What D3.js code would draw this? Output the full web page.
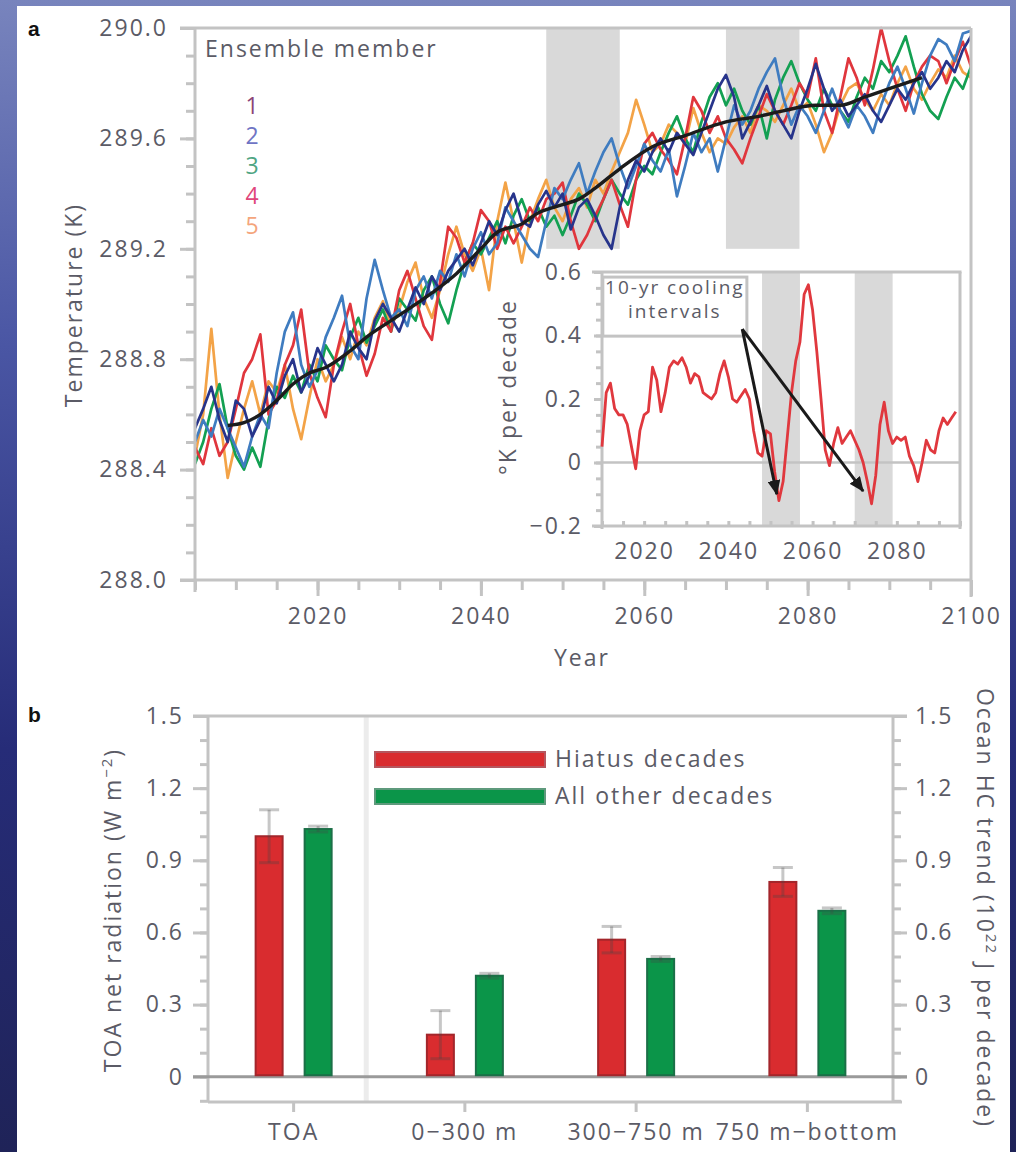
<!DOCTYPE html>
<html><head><meta charset="utf-8">
<script src="https://cdn.jsdelivr.net/npm/d3@7/dist/d3.min.js"></script>
<style>
html,body{margin:0;padding:0;}
body{width:1016px;height:1152px;overflow:hidden;background:linear-gradient(180deg,#7884bd 0%,#4a56a4 30%,#262c78 65%,#1f2358 100%);}
svg{display:block;}
text{font-family:"Open Sans",sans-serif;}
</style></head><body>
<svg id="chart" width="1016" height="1152"></svg>
<script>
// ---------------- DATA ----------------
const startYear = 2005;
const memberNames = ["1", "2", "3", "4", "5"];
const member1 = [
 288.55,288.62,288.70,288.58,288.50,288.65,288.62,288.52,288.58,288.70,
 288.64,288.74,288.80,288.68,288.74,288.84,288.78,288.72,288.78,288.90,
 288.84,288.80,288.94,289.00,288.95,288.90,288.98,289.06,289.00,289.10,
 289.05,289.12,289.16,289.20,289.14,289.22,289.30,289.25,289.34,289.40,
 289.30,289.28,289.36,289.41,289.35,289.40,289.27,289.35,289.38,289.32,
 289.25,289.20,289.35,289.45,289.52,289.48,289.55,289.60,289.55,289.62,
 289.58,289.54,289.62,289.70,289.78,289.83,289.75,289.60,289.66,289.72,
 289.79,289.70,289.65,289.60,289.70,289.78,289.87,289.78,289.70,289.74,
 289.68,289.72,289.76,289.70,289.66,289.72,289.78,289.74,289.80,289.84,
 289.78,289.82,289.88,289.84,289.92,289.97];
const member2 = [
 288.50,288.58,288.52,288.62,288.55,288.48,288.41,288.52,288.60,288.55,
 288.75,288.90,288.97,288.78,288.70,288.76,288.88,288.95,289.03,288.85,
 288.80,289.02,289.16,289.05,288.95,288.98,288.92,289.05,289.10,289.02,
 289.12,289.08,289.18,289.10,289.20,289.26,289.18,289.22,289.35,289.30,
 289.25,289.20,289.17,289.30,289.42,289.38,289.45,289.51,289.40,289.48,
 289.55,289.60,289.50,289.42,289.50,289.58,289.52,289.48,289.56,289.39,
 289.50,289.62,289.55,289.60,289.48,289.60,289.72,289.65,289.70,289.78,
 289.84,289.89,289.75,289.65,289.72,289.68,289.62,289.70,289.78,289.70,
 289.64,289.72,289.68,289.62,289.72,289.80,289.86,289.78,289.69,289.80,
 289.90,289.96,289.94,289.88,289.98,289.99];
const member3 = [
 288.42,288.50,288.62,288.71,288.55,288.45,288.40,288.48,288.41,288.58,
 288.70,288.66,288.74,288.68,288.78,288.72,288.85,288.80,288.76,288.88,
 288.95,288.86,288.92,288.98,288.90,289.02,288.98,288.94,289.05,289.10,
 289.00,288.93,289.05,289.15,289.22,289.18,289.24,289.30,289.22,289.32,
 289.38,289.30,289.35,289.28,289.32,289.25,289.32,289.40,289.36,289.30,
 289.38,289.45,289.40,289.36,289.45,289.50,289.47,289.55,289.62,289.68,
 289.60,289.55,289.66,289.75,289.80,289.72,289.78,289.70,289.65,289.72,
 289.60,289.74,289.82,289.88,289.80,289.74,289.70,289.78,289.72,289.70,
 289.66,289.75,289.82,289.78,289.88,289.84,289.90,289.97,289.86,289.76,
 289.70,289.67,289.75,289.82,289.78,289.86];
const member4 = [
 288.48,288.42,288.55,288.45,288.50,288.62,288.75,288.80,288.89,288.60,
 288.65,288.78,288.85,288.98,288.75,288.66,288.59,288.78,288.90,289.00,
 288.85,288.74,288.82,288.95,288.90,289.05,289.12,289.02,288.92,288.87,
 289.08,289.28,289.24,289.15,289.22,289.34,289.30,289.20,289.28,289.22,
 289.28,289.35,289.30,289.38,289.40,289.44,289.30,289.20,289.25,289.32,
 289.38,289.45,289.36,289.28,289.45,289.58,289.62,289.56,289.52,289.47,
 289.60,289.75,289.70,289.62,289.68,289.60,289.56,289.51,289.60,289.68,
 289.76,289.70,289.65,289.72,289.80,289.75,289.89,289.70,289.62,289.75,
 289.89,289.82,289.72,289.85,290.00,289.88,289.78,289.70,289.80,289.86,
 289.90,289.88,289.80,289.88,289.95,289.86];
const member5 = [
 288.45,288.60,288.91,288.60,288.37,288.50,288.62,288.72,288.60,288.72,
 288.68,288.78,288.62,288.51,288.66,288.80,288.72,288.78,288.88,288.80,
 288.90,288.85,288.95,289.01,288.92,288.98,289.08,289.15,289.02,288.95,
 289.05,289.18,289.28,289.18,289.12,289.20,289.05,289.30,289.44,289.30,
 289.15,289.30,289.38,289.45,289.35,289.30,289.38,289.42,289.35,289.45,
 289.40,289.48,289.55,289.62,289.74,289.65,289.55,289.58,289.65,289.62,
 289.58,289.71,289.62,289.55,289.60,289.58,289.64,289.68,289.62,289.72,
 289.70,289.66,289.72,289.78,289.70,289.73,289.65,289.55,289.62,289.72,
 289.78,289.80,289.74,289.70,289.76,289.72,289.80,289.86,289.78,289.74,
 289.80,289.85,289.82,289.90,289.84,289.82];
const ensembleMean = [
 [2009,288.56],[2011,288.57],[2013,288.60],[2015,288.65],[2017,288.71],[2019,288.75],
 [2021,288.77],[2024,288.83],[2026,288.88],[2029,288.94],[2034,289.04],[2037,289.11],
 [2040,289.20],[2042,289.26],[2045,289.29],[2047,289.33],[2050,289.36],[2052,289.38],
 [2054,289.42],[2057,289.49],[2061,289.57],[2065,289.61],[2070,289.66],[2074,289.68],
 [2077,289.70],[2081,289.72],[2084,289.72],[2087,289.75],[2090,289.78],[2094,289.82]];
const hiatusIntervals = [[2048, 2057], [2070, 2079]];
const tempTicks = [288.0, 288.4, 288.8, 289.2, 289.6, 290.0];
const yearTicks = [2020, 2040, 2060, 2080, 2100];

const insetStartYear = 2010;
const insetTrend = [
 0.05,0.22,0.25,0.17,0.15,0.15,0.12,0.05,-0.02,0.10,
 0.15,0.16,0.30,0.26,0.16,0.22,0.30,0.32,0.31,0.33,
 0.30,0.25,0.28,0.27,0.22,0.21,0.20,0.22,0.28,0.32,
 0.27,0.20,0.19,0.21,0.23,0.20,0.10,0.03,0.02,0.10,
 0.09,-0.03,-0.12,-0.06,0.08,0.22,0.32,0.38,0.53,0.56,
 0.48,0.35,0.20,0.04,-0.01,0.06,0.11,0.06,0.08,0.10,
 0.07,0.04,0.00,-0.06,-0.13,-0.04,0.12,0.19,0.10,0.06,
 0.08,0.07,0.08,0.02,-0.01,-0.06,0.00,0.07,0.04,0.03,
 0.10,0.14,0.12,0.14,0.16];
const insetYTicks = [-0.2, 0, 0.2, 0.4, 0.6];
const insetXTicks = [2020, 2040, 2060, 2080];
const calloutLines = ["10-yr cooling", "intervals"];

const barCategories = ["TOA", "0\u2212300 m", "300\u2212750 m", "750 m\u2212bottom"];
const barSeries = ["Hiatus decades", "All other decades"];
const hiatusValues = [1.00, 0.175, 0.57, 0.81];
const hiatusErrors = [0.11, 0.10, 0.055, 0.06];
const otherValues = [1.03, 0.42, 0.49, 0.69];
const otherErrors = [0.012, 0.01, 0.01, 0.012];
const barTicks = [0, 0.3, 0.6, 0.9, 1.2, 1.5];

// ---------------- STYLE ----------------
const memberColors = ["#27348b", "#3f7cc0", "#13a052", "#e0363d", "#f3a347"];
const memberTextColors = ["#8c4476", "#6f74c4", "#4fa583", "#e0467a", "#f4a57c"];
const AX = "#c3c3c3", TXT = "#5b5b66", FS = 23;
const barFill = ["#d92c2f", "#0b9549"], barStroke = ["#a3262b", "#1b6f47"];

const svg = d3.select("#chart");
svg.append("rect").attr("x", 17).attr("y", 6).attr("width", 993).attr("height", 1146).attr("fill", "#fff");

function styleText(sel, size) {
  sel.attr("fill", TXT).style("font-size", (size || FS) + "px").style("letter-spacing", "2px")
     .style("font-family", "'Open Sans',sans-serif");
}
function hline(x1, x2, yy, color, w) {
  svg.append("line").attr("x1", x1).attr("x2", x2).attr("y1", yy).attr("y2", yy).attr("stroke", color).attr("stroke-width", w);
}
function vline(xx, y1, y2, color, w) {
  svg.append("line").attr("x1", xx).attr("x2", xx).attr("y1", y1).attr("y2", y2).attr("stroke", color).attr("stroke-width", w);
}
function styleAxis(g) {
  g.select(".domain").remove();
  g.selectAll(".tick line").attr("stroke", AX).attr("stroke-width", 3);
  g.selectAll(".tick text").call(styleText);
}

// ================= PANEL A =================
const x = d3.scaleLinear().domain([2005, 2100]).range([195, 971]);
const y = d3.scaleLinear().domain([288, 290]).range([580, 28]);

svg.selectAll(".shadeA").data(hiatusIntervals).join("rect")
  .attr("x", d => x(d[0])).attr("width", d => x(d[1]) - x(d[0]))
  .attr("y", y(290)).attr("height", y(289.2) - y(290)).attr("fill", "#d9d9d9");

svg.append("clipPath").attr("id", "clipA").append("rect")
  .attr("x", 195).attr("y", 24).attr("width", 776).attr("height", 556);
const gl = svg.append("g").attr("clip-path", "url(#clipA)");
const members = [member1, member2, member3, member4, member5];
const line = d3.line().x((d, i) => x(startYear + i)).y(d => y(d));
[4, 2, 3, 1, 0].forEach(k => {
  gl.append("path").datum(members[k]).attr("d", line).attr("fill", "none")
    .attr("stroke", memberColors[k]).attr("stroke-width", 2.7).attr("stroke-linejoin", "round");
});
gl.append("path").datum(ensembleMean)
  .attr("d", d3.line().curve(d3.curveMonotoneX).x(d => x(d[0])).y(d => y(d[1])))
  .attr("fill", "none").attr("stroke", "#1c1c1c").attr("stroke-width", 3.4);

// frame
hline(180, 971, y(290), AX, 3);
hline(180, 971, y(288), AX, 3);
vline(x(2005), y(290), 592, AX, 3);
vline(x(2100), y(290), 597, AX, 3);

// axes
const minorTemp = d3.range(0, 21).map(i => 288 + i * 0.1);
svg.append("g").attr("transform", `translate(${x(2005)},0)`)
  .call(d3.axisLeft(y).tickValues(minorTemp).tickSize(9).tickFormat("")).call(styleAxis);
svg.append("g").attr("transform", `translate(${x(2005)},0)`)
  .call(d3.axisLeft(y).tickValues(tempTicks).tickSize(15).tickPadding(12).tickFormat(d3.format(".1f"))).call(styleAxis);
const minorYears = d3.range(0, 20).map(i => 2005 + i * 5);
svg.append("g").attr("transform", `translate(0,${y(288)})`)
  .call(d3.axisBottom(x).tickValues(minorYears).tickSize(10).tickFormat("")).call(styleAxis);
svg.append("g").attr("transform", `translate(0,${y(288)})`)
  .call(d3.axisBottom(x).tickValues(yearTicks).tickSize(16).tickPadding(12).tickFormat(d3.format("d"))).call(styleAxis);

svg.append("text").attr("x", 582).attr("y", 666).attr("text-anchor", "middle").text("Year").call(styleText);
svg.append("text").attr("transform", "translate(82,305) rotate(-90)").attr("text-anchor", "middle").text("Temperature (K)").call(styleText);

// legend
svg.append("text").attr("x", 205).attr("y", 57).text("Ensemble member").call(styleText);
svg.selectAll(".memLab").data(memberNames).join("text")
  .attr("x", 253).attr("y", (d, i) => 114 + i * 30).attr("text-anchor", "middle").text(d => d)
  .call(styleText).attr("fill", (d, i) => memberTextColors[i]);

svg.append("text").attr("x", 28).attr("y", 36).text("a").attr("fill", "#111")
  .style("font-size", "21px").style("font-weight", "bold").style("font-family", "'Liberation Sans',sans-serif");

// ---------------- inset ----------------
const ix = d3.scaleLinear().domain([2010, 2095]).range([602, 960]);
const iy = d3.scaleLinear().domain([-0.2, 0.6]).range([526, 272]);
svg.append("rect").attr("x", 525).attr("y", 262).attr("width", 443).attr("height", 310).attr("fill", "#fff");
svg.selectAll(".shadeI").data(hiatusIntervals).join("rect")
  .attr("x", d => ix(d[0])).attr("width", d => ix(d[1]) - ix(d[0]))
  .attr("y", iy(0.6)).attr("height", iy(-0.2) - iy(0.6)).attr("fill", "#d9d9d9");
hline(ix(2010), ix(2095), iy(0), AX, 2.5);
// frame
hline(592, ix(2095) + 1.5, iy(0.6), AX, 3);
hline(592, ix(2095) + 1.5, iy(-0.2), AX, 3);
vline(ix(2010), iy(0.6), iy(-0.2) + 3, AX, 3);
vline(ix(2095), iy(0.6), iy(-0.2) + 3, AX, 3);
const minorInsetY = d3.range(0, 17).map(i => -0.2 + i * 0.05);
svg.append("g").attr("transform", `translate(${ix(2010)},0)`)
  .call(d3.axisLeft(iy).tickValues(minorInsetY).tickSize(6).tickFormat("")).call(styleAxis);
svg.append("g").attr("transform", `translate(${ix(2010)},0)`)
  .call(d3.axisLeft(iy).tickValues(insetYTicks).tickSize(8).tickPadding(11)
    .tickFormat(d => d === 0 ? "0" : d3.format(".1f")(d).replace("-", "\u2212"))).call(styleAxis);
const minorInsetX = d3.range(0, 18).map(i => 2010 + i * 5);
svg.append("g").attr("transform", `translate(0,${iy(-0.2)})`)
  .call(d3.axisTop(ix).tickValues(minorInsetX).tickSize(5).tickFormat("")).call(styleAxis);
const gix = svg.append("g").attr("transform", `translate(0,${iy(-0.2)})`)
  .call(d3.axisBottom(ix).tickValues(insetXTicks).tickSize(0).tickPadding(17).tickFormat(d3.format("d")));
styleAxis(gix);

svg.append("path").datum(insetTrend)
  .attr("d", d3.line().x((d, i) => ix(insetStartYear + i)).y(d => iy(d)))
  .attr("fill", "none").attr("stroke", "#e0383e").attr("stroke-width", 2.8).attr("stroke-linejoin", "round");

svg.append("text").attr("transform", "translate(516,387) rotate(-90)").attr("text-anchor", "middle")
  .text("\u00B0K per decade").call(styleText);

// callout
svg.append("rect").attr("x", ix(2010.2)).attr("y", iy(0.584)).attr("width", ix(2044.4) - ix(2010.2))
  .attr("height", iy(0.398) - iy(0.584)).attr("fill", "#fff").attr("stroke", AX).attr("stroke-width", 3);
svg.selectAll(".callout").data(calloutLines).join("text")
  .attr("x", ix(2027.3)).attr("y", (d, i) => iy(0.53) + i * 24).attr("text-anchor", "middle").text(d => d)
  .call(styleText, 19);
const defs = svg.append("defs");
defs.append("marker").attr("id", "arr").attr("viewBox", "0 0 14 12").attr("refX", 13).attr("refY", 6)
  .attr("markerWidth", 15).attr("markerHeight", 13).attr("markerUnits", "userSpaceOnUse").attr("orient", "auto")
  .append("path").attr("d", "M0,0 L14,6 L0,12 Z").attr("fill", "#1a1a1a");
const arrowStart = [2043.3, 0.42];
const arrowEnds = [[2051.5, -0.1], [2072, -0.09]];
arrowEnds.forEach(e => {
  svg.append("line").attr("x1", ix(arrowStart[0])).attr("y1", iy(arrowStart[1]))
    .attr("x2", ix(e[0])).attr("y2", iy(e[1])).attr("stroke", "#1a1a1a").attr("stroke-width", 3)
    .attr("marker-end", "url(#arr)");
});

// ================= PANEL B =================
const bx = d3.scaleBand().domain(barCategories).range([208, 893]);
const bsub = d3.scalePoint().domain(barSeries).range([-24.5, 24.5]);
const by = d3.scaleLinear().domain([-0.105, 1.5]).range([1102, 716]);
const barW = 29;
const center = c => bx(c) + bx.bandwidth() / 2;

// separator
vline((center(barCategories[0]) + center(barCategories[1])) / 2 - 13, by(1.5), by(-0.105), "#ececec", 5);

// frame
hline(193, 907, by(1.5), AX, 3);
hline(208, 902, by(-0.105), AX, 3);
vline(208, by(1.5), by(-0.105), AX, 3);
vline(893, by(1.5), by(-0.105), AX, 3);

const minorB = d3.range(0, 17).map(i => -0.1 + i * 0.1);
svg.append("g").attr("transform", "translate(208,0)")
  .call(d3.axisLeft(by).tickValues(minorB).tickSize(8).tickFormat("")).call(styleAxis);
svg.append("g").attr("transform", "translate(208,0)")
  .call(d3.axisLeft(by).tickValues(barTicks).tickSize(15).tickPadding(9).tickFormat(d => d === 0 ? "0" : d3.format(".1f")(d))).call(styleAxis);
svg.append("g").attr("transform", "translate(893,0)")
  .call(d3.axisRight(by).tickValues(minorB).tickSize(8).tickFormat("")).call(styleAxis);
svg.append("g").attr("transform", "translate(893,0)")
  .call(d3.axisRight(by).tickValues(barTicks).tickSize(14).tickPadding(8).tickFormat(d => d === 0 ? "0" : d3.format(".1f")(d))).call(styleAxis);
svg.append("g").attr("transform", `translate(0,${by(-0.105)})`)
  .call(d3.axisBottom(bx).tickSize(10).tickPadding(12)).call(styleAxis);

// zero line
hline(193, 907, by(0), "#9a9a9a", 3);

const barData = [];
barCategories.forEach((c, i) => {
  barData.push({c, s: 0, v: hiatusValues[i], e: hiatusErrors[i]});
  barData.push({c, s: 1, v: otherValues[i], e: otherErrors[i]});
});
const bars = svg.append("g");
bars.selectAll("rect").data(barData).join("rect")
  .attr("x", d => center(d.c) + bsub(barSeries[d.s]) - barW / 2 + 1)
  .attr("width", barW - 2)
  .attr("y", d => by(d.v)).attr("height", d => by(0) - by(d.v) - 1.5)
  .attr("fill", d => barFill[d.s]).attr("stroke", d => barStroke[d.s]).attr("stroke-width", 2);
const eb = svg.append("g").attr("stroke", "rgba(70,70,70,0.3)").attr("stroke-width", 3);
barData.forEach(d => {
  const cx = center(d.c) + bsub(barSeries[d.s]);
  eb.append("line").attr("x1", cx).attr("x2", cx).attr("y1", by(d.v + d.e)).attr("y2", by(d.v - d.e));
  eb.append("line").attr("x1", cx - 10).attr("x2", cx + 10).attr("y1", by(d.v + d.e)).attr("y2", by(d.v + d.e));
  eb.append("line").attr("x1", cx - 10).attr("x2", cx + 10).attr("y1", by(d.v - d.e)).attr("y2", by(d.v - d.e));
});

// legend
barSeries.forEach((s, i) => {
  svg.append("rect").attr("x", 375).attr("y", 752 + i * 37).attr("width", 170).attr("height", 15)
    .attr("fill", barFill[i]).attr("stroke", i === 0 ? "#b5565e" : "#5e9a7c").attr("stroke-width", 2);
  svg.append("text").attr("x", 555).attr("y", 767 + i * 37).text(s).call(styleText);
});

// titles
const lt = svg.append("text").attr("transform", "translate(121,910) rotate(-90)").attr("text-anchor", "middle").call(styleText);
lt.append("tspan").text("TOA net radiation (W m");
lt.append("tspan").text("\u22122").attr("dy", -9).style("font-size", "15px");
lt.append("tspan").text(")").attr("dy", 9);
const rt = svg.append("text").attr("transform", "translate(977,908) rotate(90)").attr("text-anchor", "middle").call(styleText);
rt.append("tspan").text("Ocean HC trend (10");
rt.append("tspan").text("22").attr("dy", -9).style("font-size", "15px");
rt.append("tspan").text(" J per decade)").attr("dy", 9);

svg.append("text").attr("x", 28).attr("y", 722).text("b").attr("fill", "#111")
  .style("font-size", "21px").style("font-weight", "bold").style("font-family", "'Liberation Sans',sans-serif");
</script>
</body></html>
